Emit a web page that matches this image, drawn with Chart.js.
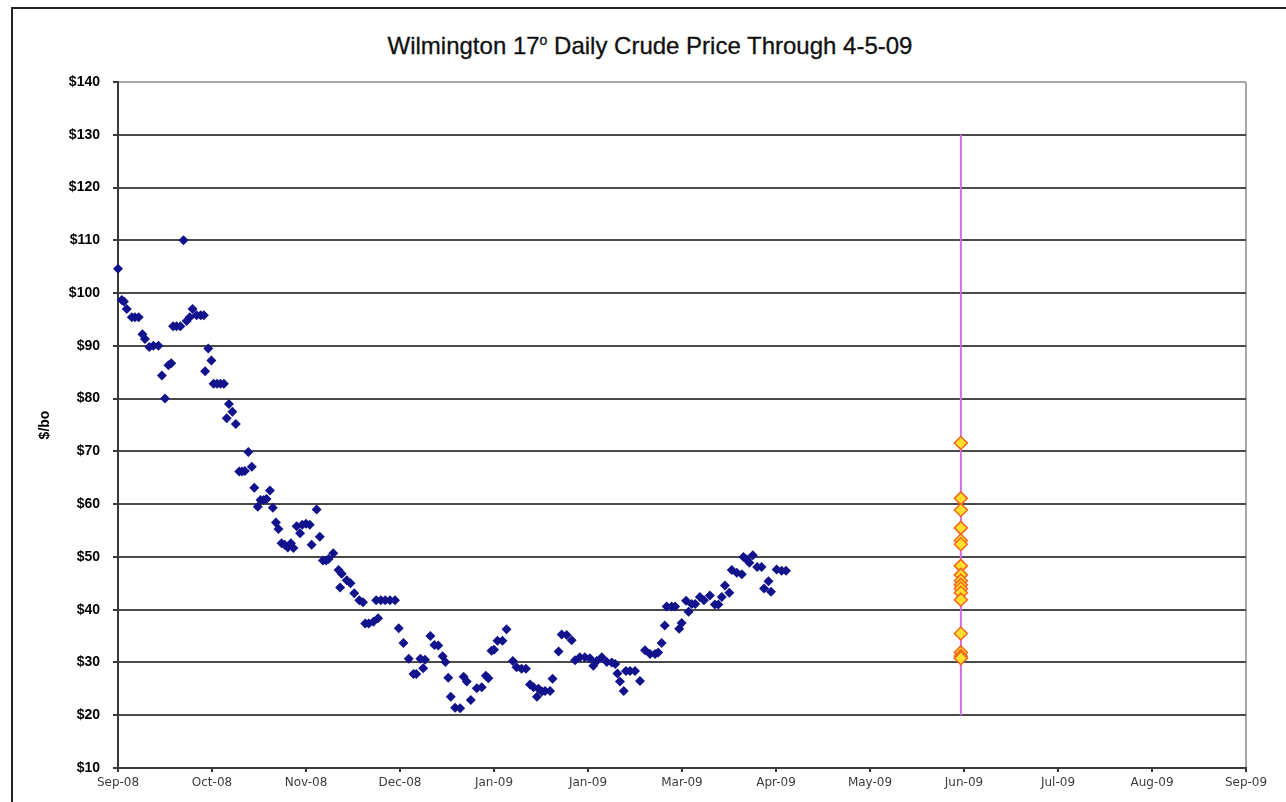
<!DOCTYPE html>
<html>
<head>
<meta charset="utf-8">
<script src="https://cdn.jsdelivr.net/npm/chart.js@4.4.1/dist/chart.umd.min.js"></script>
<style>
  html, body { margin: 0; padding: 0; background: #fff; overflow: hidden; }
  #wrap { position: relative; width: 1286px; height: 802px; }
  #frame { position: absolute; left: 11px; top: 7px; width: 1300px; height: 900px; border: 2px solid #222; }
  #title {
    position: absolute; left: 0; width: 1300px; top: 32px; text-align: center;
    font-family: "Liberation Sans", Arial, sans-serif; font-size: 24px; color: #111;
    -webkit-text-stroke: 0.3px #111;
  }
  #title sup { font-size: 14px; }
  canvas { position: absolute; left: 0; top: 0; }
</style>
</head>
<body>
<div id="wrap">
  <div id="frame"></div>
  <div id="title">Wilmington 17<sup>o</sup> Daily Crude Price Through 4-5-09</div>
  <canvas id="chart" width="1286" height="802"></canvas>
</div>
<script>
// x axis: days since Sep-08, one label every 30 days
const monthLabels = ["Sep-08", "Oct-08", "Nov-08", "Dec-08", "Jan-09", "Jan-09", "Mar-09",
  "Apr-09", "May-09", "Jun-09", "Jul-09", "Aug-09", "Sep-09"];

// daily crude price
const priceDays = [
  0, 1.2, 1.9, 2.8, 4.4, 5.4, 6.6, 7.8, 8.6, 10.0, 11.3, 12.9, 14.0, 15.0, 16.1, 17.0,
  17.6, 18.7, 19.9, 20.9, 21.9, 22.9, 23.8, 25.1, 26.4, 27.4, 27.8, 28.8, 29.8, 30.5,
  31.6, 32.7, 33.8, 34.7, 35.4, 36.5, 37.6, 38.7, 39.6, 40.5, 41.6, 42.7, 43.5, 44.6,
  45.5, 46.5, 47.4, 48.5, 49.4, 50.4, 51.2, 52.2, 53.2, 54.2, 55.2, 56.0, 57.0, 58.1,
  58.8, 60.0, 61.2, 61.8, 63.4, 64.4, 65.4, 66.4, 67.2, 68.7, 70.4, 70.9, 71.4, 73.0,
  74.2, 75.4, 77.0, 78.2, 78.9, 80.0, 81.5, 83.0, 82.4, 83.9, 85.3, 86.8, 88.4, 89.6,
  91.1, 92.8, 94.3, 95.2, 96.5, 97.4, 98.0, 99.7, 101.0, 102.2, 103.6, 104.5, 105.4,
  106.2, 107.6, 109.2, 110.3, 111.3, 112.6, 114.5, 116.1, 117.4, 118.2, 119.2, 120.0,
  121.1, 122.7, 124.0, 126.0, 127.2, 128.8, 130.2, 131.5, 132.6, 133.7, 134.2, 135.3,
  136.3, 137.9, 138.7, 140.6, 141.6, 143.2, 144.8, 145.9, 147.4, 149.0, 150.6, 151.7,
  152.8, 154.4, 156.0, 157.6, 158.7, 159.4, 160.2, 161.4, 162.1, 163.4, 165.0, 166.6,
  168.2, 169.8, 171.4, 172.4, 173.5, 174.5, 175.1, 176.7, 177.8, 179.1, 179.9, 181.3,
  182.1, 183.1, 184.2, 185.7, 187.0, 188.9, 190.5, 191.6, 192.7, 193.7, 195.1, 195.9,
  197.5, 199.1, 199.6, 200.7, 201.5, 202.6, 204.0, 205.4, 206.2, 207.6, 208.4, 210.2,
  211.8, 213.2
];
const prices = [
  104.6, 98.7, 98.4, 97.0, 95.4, 95.4, 95.4, 92.2, 91.3, 89.8, 90.0, 90.0, 84.4, 80.0, 86.3, 86.7,
  93.7, 93.7, 93.7, 110.0, 94.7, 95.4, 97.0, 95.8, 95.8, 95.8, 85.2, 89.5, 87.2, 82.8,
  82.8, 82.8, 82.8, 76.3, 79.0, 77.5, 75.2, 66.2, 66.2, 66.3, 69.9, 67.1, 63.1, 59.5,
  60.8, 60.8, 61.0, 62.6, 59.3, 56.5, 55.3, 52.6, 52.3, 51.8, 52.6, 51.7, 55.8, 54.5,
  56.1, 56.3, 56.1, 52.3, 59.0, 53.8, 49.3, 49.3, 49.6, 50.7, 47.5, 44.2, 46.8, 45.6,
  45.0, 43.1, 41.8, 41.4, 37.4, 37.4, 37.7, 38.4, 41.8, 41.8, 41.8, 41.8, 41.8, 36.5,
  33.7, 30.7, 27.8, 27.8, 30.7, 28.9, 30.5, 35.0, 33.3, 33.2, 31.2, 30.1, 27.1,
  23.5, 21.4, 21.3, 27.3, 26.4, 22.9, 25.1, 25.3, 27.5, 27.0, 32.2, 32.4,
  34.1, 34.1, 36.3, 30.3, 29.1, 28.8, 28.8, 25.8, 25.3, 23.5, 25.0, 24.5,
  24.6, 24.6, 26.9, 32.1, 35.3, 35.2, 34.2, 30.4, 31.0, 31.0, 30.8, 29.4,
  30.3, 31.0, 30.1, 30.0, 29.7, 27.9, 26.4, 24.6, 28.4, 28.4, 28.4, 26.5,
  32.3, 31.6, 31.6, 31.9, 33.7, 37.0, 40.6, 40.6, 40.6, 36.4, 37.5, 41.7,
  39.6, 41.1, 41.1, 42.4, 41.8, 42.7, 41.0, 41.0, 42.4, 44.6, 43.2, 47.5,
  47.0, 46.7, 50.0, 49.5, 48.9, 50.3, 48.1, 48.1, 44.0, 45.4, 43.4, 47.6,
  47.4, 47.4
];

// forecast prices stacked on one date, with the range line behind them
const forecastDay = 269;
const forecastPrices = [71.6, 61.1, 58.9, 55.5, 53.1, 52.4, 48.3, 46.6, 45.5, 44.7, 44.0, 43.2,
  41.9, 35.5, 31.9, 31.2, 30.8];
const rangeLow = 20;
const rangeHigh = 130;

const font = "'Liberation Sans', Arial, sans-serif";

new Chart(document.getElementById("chart"), {
  type: "scatter",
  data: {
    datasets: [
      {
        data: forecastPrices.map(p => ({ x: forecastDay, y: p })),
        pointStyle: "rectRot",
        pointRadius: 6.5,
        pointBackgroundColor: "#FFE02E",
        pointBorderColor: "#F2651C",
        pointBorderWidth: 1.5,
        clip: false,
        order: 1
      },
      {
        data: priceDays.map((d, i) => ({ x: d, y: prices[i] })),
        pointStyle: "rectRot",
        pointRadius: 5,
        pointBackgroundColor: "#12128C",
        pointBorderWidth: 0,
        clip: false,
        order: 2
      },
      {
        type: "line",
        data: [{ x: forecastDay, y: rangeLow }, { x: forecastDay, y: rangeHigh }],
        borderColor: "#D36BE6",
        borderWidth: 2,
        pointRadius: 0,
        order: 3
      }
    ]
  },
  options: {
    responsive: false,
    animation: false,
    layout: { padding: { left: 20, right: 40, top: 82, bottom: 8 } },
    plugins: { legend: { display: false }, tooltip: { enabled: false } },
    scales: {
      x: {
        type: "linear",
        min: 0,
        max: 360,
        afterFit: s => { s.height = 26; },
        border: { color: "#3a3a3a", width: 2 },
        grid: {
          drawOnChartArea: true,
          color: c => (c.index === 12 ? "#a8a8a8" : "rgba(0,0,0,0)"),
          lineWidth: 2,
          tickColor: "#3a3a3a",
          tickLength: 4
        },
        ticks: {
          stepSize: 30,
          autoSkip: false,
          maxRotation: 0,
          padding: 4,
          color: "#3c3c3c",
          font: { family: "'DejaVu Sans', sans-serif", size: 12 },
          callback: v => monthLabels[Math.round(v / 30)]
        }
      },
      y: {
        min: 10,
        max: 140,
        afterFit: s => { s.width = 98; },
        border: { color: "#3a3a3a", width: 2 },
        grid: {
          color: c => (c.tick && c.tick.value === 140 ? "#a8a8a8" : "#4a4a4a"),
          lineWidth: 2,
          tickColor: "#3a3a3a",
          tickLength: 5
        },
        ticks: {
          stepSize: 10,
          padding: 13,
          color: "#000",
          font: { family: font, size: 14, weight: "bold" },
          callback: v => "$" + v
        },
        title: {
          display: true,
          text: "$/bo",
          color: "#000",
          padding: { top: 17, bottom: 0 },
          font: { family: font, size: 14, weight: "bold" }
        }
      }
    }
  }
});
</script>
</body>
</html>
